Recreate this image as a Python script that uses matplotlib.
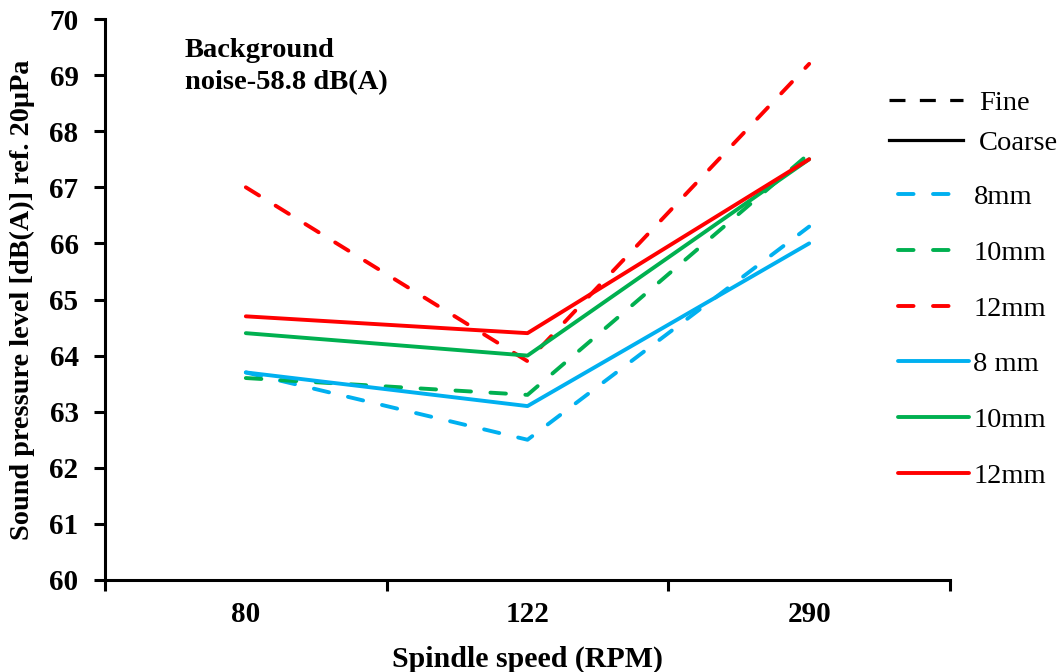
import matplotlib.pyplot as plt
from matplotlib.lines import Line2D

plt.rcParams['font.family'] = ['Liberation Serif', 'DejaVu Serif']

speeds = ['80', '122', '290']
fine_8 = [63.7, 62.5, 66.3]
fine_10 = [63.6, 63.3, 67.6]
fine_12 = [67.0, 63.9, 69.2]
coarse_8 = [63.7, 63.1, 66.0]
coarse_10 = [64.4, 64.0, 67.5]
coarse_12 = [64.7, 64.4, 67.5]

blue, green, red = '#00B0F0', '#00B050', '#FF0000'
dash = (0, (4.0, 5.0))

fig = plt.figure(figsize=(10.64, 6.72), dpi=100)
ax = fig.add_axes([105/1064, 92/672, 845/1064, 561/672])

x = range(len(speeds))
series = [
    (fine_8, blue, dash, '8mm'),
    (fine_10, green, dash, '10mm'),
    (fine_12, red, dash, '12mm'),
    (coarse_8, blue, '-', '8 mm'),
    (coarse_10, green, '-', '10mm'),
    (coarse_12, red, '-', '12mm'),
]
handles = []
for vals, col, ls, lab in series:
    ax.plot(x, vals, color=col, linestyle=ls, lw=2.8,
            dash_capstyle='round', solid_capstyle='round', label=lab)
    # legend handle: dashed ones show just two dashes, like the original
    hls = (0, (4.0, 5.0, 4.0, 30)) if ls != '-' else '-'
    handles.append(Line2D([], [], color=col, linestyle=hls, lw=2.8,
                          dash_capstyle='round', solid_capstyle='round', label=lab))

ax.set_xlim(-0.5, 2.5)
ax.set_ylim(60, 70)
ax.set_yticks(range(60, 71))
ax.tick_params(axis='y', which='major', direction='out', length=8, width=2.2,
               labelsize=21, pad=11)
ax.set_xticks([-0.5, 0.5, 1.5, 2.5])
ax.set_xticklabels([])
ax.tick_params(axis='x', which='major', direction='out', length=8, width=2.2)
ax.set_xticks(list(x), minor=True)
ax.set_xticklabels(speeds, minor=True)
ax.tick_params(axis='x', which='minor', length=0, labelsize=21, pad=15)
for lab in ax.get_yticklabels() + ax.get_xticklabels(minor=True):
    lab.set_fontweight('bold')

for s in ['top', 'right']:
    ax.spines[s].set_visible(False)
for s in ['left', 'bottom']:
    ax.spines[s].set_linewidth(2.2)

ax.set_xlabel('Spindle speed (RPM)', fontsize=21.5, fontweight='bold', labelpad=13)
ax.set_ylabel('Sound pressure level [dB(A)] ref. 20μPa', fontsize=20.3,
              fontweight='bold', labelpad=10)

ax.text(185/1064, 1 - 38/672, 'Background\nnoise-58.8 dB(A)', transform=fig.transFigure,
        fontsize=20.5, fontweight='bold', va='top', ha='left', linespacing=1.38)

type_handles = [
    Line2D([], [], color='black', lw=2.3, linestyle=(0, (5, 4.5))),
    Line2D([], [], color='black', lw=2.3, linestyle='-'),
]
leg1 = fig.legend(type_handles, ['Fine', 'Coarse'], loc='upper left',
                  bbox_to_anchor=(889/1064, 1 - 90/672), frameon=False,
                  fontsize=20.5, handlelength=2.6, handletextpad=0.55,
                  labelspacing=0.49, borderpad=0, borderaxespad=0)
leg2 = fig.legend(handles, [h.get_label() for h in handles], loc='upper left',
                  bbox_to_anchor=(898/1064, 1 - 184/672), frameon=False,
                  fontsize=20.5, handlelength=2.5, handletextpad=0.15,
                  labelspacing=1.05, borderpad=0, borderaxespad=0)

fig.savefig('out.png', dpi=100)
